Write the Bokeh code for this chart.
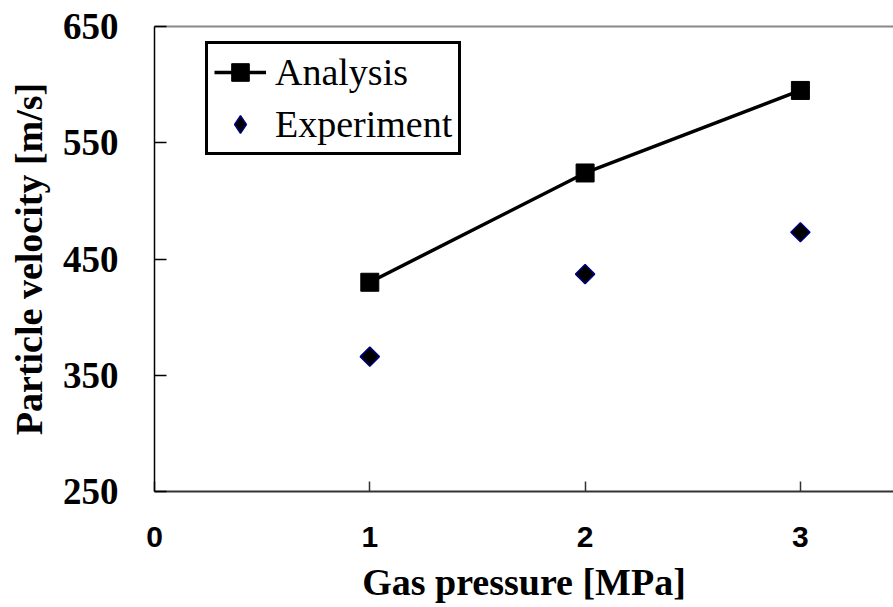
from bokeh.plotting import figure
from bokeh.models import Range1d, FixedTicker, LinearAxis, Legend, LegendItem
from bokeh.embed import file_html
from bokeh.resources import INLINE
import math

# ---- data ----
pressure = [1, 2, 3]
analysis = [430, 524, 595]
experiment = [366, 437, 473]
x_ticks = [0, 1, 2, 3]
y_ticks = [250, 350, 450, 550, 650]
x_title = "Gas pressure [MPa]"
y_title = "Particle velocity [m/s]"
series_names = ["Analysis", "Experiment"]

W, H = 893, 607
LEFT, TOP, BOTTOM = 154, 26, 116
p = figure(width=W, height=H, output_backend="svg", toolbar_location=None,
           x_range=Range1d(0, (W - LEFT) / 215.3), y_range=Range1d(250, 650),
           min_border_left=LEFT, min_border_top=TOP, min_border_bottom=BOTTOM,
           min_border_right=0)
p.outline_line_color = None
p.grid.visible = False
p.background_fill_color = "white"
p.border_fill_color = "white"

# axes styling
xa = p.xaxis[0]
xa.ticker = FixedTicker(ticks=x_ticks)
xa.major_tick_in = 10
xa.major_tick_out = 0
xa.minor_tick_line_color = None
xa.axis_line_color = "#333333"
xa.axis_line_width = 2
xa.major_tick_line_color = "#333333"
xa.major_tick_line_width = 1.5
xa.major_label_text_font = "Liberation Sans"
xa.major_label_text_font_style = "bold"
xa.major_label_text_font_size = "30px"
xa.major_label_text_color = "black"
xa.major_label_standoff = 35
xa.axis_label = x_title
xa.axis_label_text_font = "Liberation Serif"
xa.axis_label_text_font_style = "bold"
xa.axis_label_text_font_size = "38px"
xa.axis_label_text_color = "black"
xa.axis_label_standoff = 11

ya = p.yaxis[0]
ya.ticker = FixedTicker(ticks=y_ticks)
ya.major_tick_in = 12
ya.major_tick_out = 0
ya.minor_tick_line_color = None
ya.axis_line_color = "black"
ya.axis_line_width = 1.5
ya.major_tick_line_color = "black"
ya.major_tick_line_width = 1.5
ya.major_label_text_font = "Liberation Serif"
ya.major_label_text_font_style = "bold"
ya.major_label_text_font_size = "37px"
ya.major_label_text_color = "black"
ya.major_label_standoff = 36
ya.axis_label = y_title
ya.axis_label_text_font = "Liberation Serif"
ya.axis_label_text_font_style = "bold"
ya.axis_label_text_font_size = "38px"
ya.axis_label_text_color = "black"
ya.axis_label_standoff = 10

# top border line only
top = LinearAxis(axis_line_color="#888888", axis_line_width=2,
                 major_tick_line_color=None, minor_tick_line_color=None,
                 major_label_text_font_size="0px", ticker=FixedTicker(ticks=[]))
p.add_layout(top, "above")

# series
ln = p.line(pressure, analysis, line_color="black", line_width=3.5)
sq = p.scatter(pressure, analysis, marker="square", size=18,
               fill_color="black", line_color="black")
# diamond key glyph (used by the legend), fully covered by the rotated squares below
dm_key = p.scatter(pressure, experiment, marker="diamond", size=13,
                   fill_color="black", line_color="#000080", line_width=1.5)
dm = p.scatter(pressure, experiment, marker="square", size=13.5, angle=math.pi / 4,
               fill_color="black", line_color="#000080", line_width=1.5)

legend = Legend(items=[LegendItem(label=series_names[0], renderers=[ln, sq]),
                       LegendItem(label=series_names[1], renderers=[dm_key])],
                location=(51, 336))
legend.border_line_color = "black"
legend.border_line_width = 3
legend.border_line_alpha = 1
legend.background_fill_alpha = 1
legend.padding = 6
legend.spacing = 8
legend.margin = 0
legend.label_height = 44
legend.glyph_height = 44
legend.glyph_width = 52
legend.label_standoff = 9
legend.label_text_font = "Liberation Serif"
legend.label_text_font_size = "38px"
legend.label_text_color = "black"
p.add_layout(legend, "center")

open("out.html", "w").write(file_html(p, INLINE))
